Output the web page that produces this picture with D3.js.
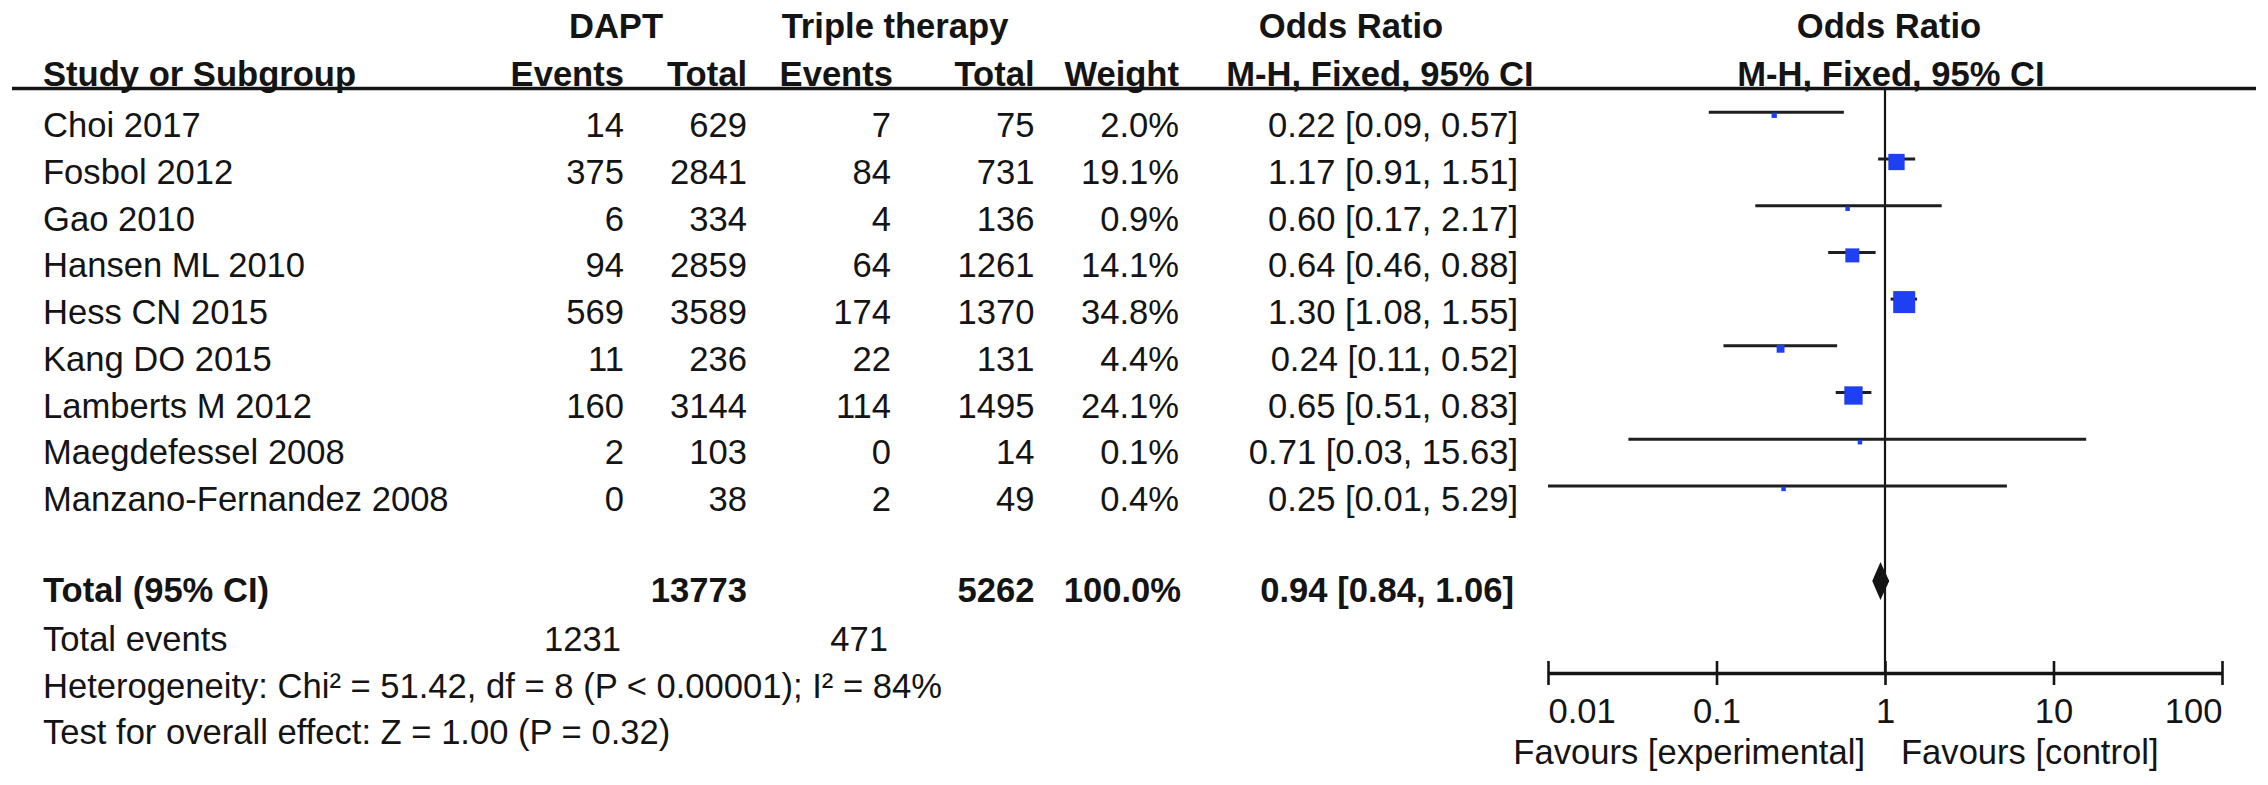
<!DOCTYPE html>
<html><head><meta charset="utf-8">
<script src="https://cdn.jsdelivr.net/npm/d3@7"></script>
<style>
html,body{margin:0;padding:0;background:#fff;}
svg text{font-family:"Liberation Sans",Arial,Helvetica,sans-serif;fill:#141414;font-size:34.6px;}
</style></head><body>
<svg id="chart" width="2268" height="785"></svg>
<script>
// ---- data ----
const studies = ["Choi 2017","Fosbol 2012","Gao 2010","Hansen ML 2010","Hess CN 2015","Kang DO 2015","Lamberts M 2012","Maegdefessel 2008","Manzano-Fernandez 2008"];
const daptEvents = [14,375,6,94,569,11,160,2,0];
const daptTotal = [629,2841,334,2859,3589,236,3144,103,38];
const ttEvents = [7,84,4,64,174,22,114,0,2];
const ttTotal = [75,731,136,1261,1370,131,1495,14,49];
const weights = [2.0,19.1,0.9,14.1,34.8,4.4,24.1,0.1,0.4];
const orValues = [0.22,1.17,0.60,0.64,1.30,0.24,0.65,0.71,0.25];
const ciLow = [0.09,0.91,0.17,0.46,1.08,0.11,0.51,0.03,0.01];
const ciHigh = [0.57,1.51,2.17,0.88,1.55,0.52,0.83,15.63,5.29];
const totalLabel = "Total (95% CI)";
const totalDapt = 13773, totalTT = 5262, totalWeight = 100.0;
const totalOR = 0.94, totalLow = 0.84, totalHigh = 1.06;
const totalEventsLabel = "Total events";
const totalEventsDapt = 1231, totalEventsTT = 471;
const heterogeneityText = "Heterogeneity: Chi\u00B2 = 51.42, df = 8 (P < 0.00001); I\u00B2 = 84%";
const overallText = "Test for overall effect: Z = 1.00 (P = 0.32)";
const axisTicks = [0.01,0.1,1,10,100];
const tickLabels = ["0.01","0.1","1","10","100"];
const favourLeft = "Favours [experimental]";
const favourRight = "Favours [control]";
const groupHeaders = ["DAPT","Triple therapy","Odds Ratio","Odds Ratio"];
const colHeaders = ["Study or Subgroup","Events","Total","Events","Total","Weight","M-H, Fixed, 95% CI","M-H, Fixed, 95% CI"];

// ---- layout ----
const svg = d3.select("#chart");
const ink = "#141414";
const colRight = {de:624, dt:747, te:891, tt:1034.5, w:1179, or:1518};
const nameX = 43;
const y = d3.scaleLinear().domain([0,1]).range([137.3,184]);   // row baselines
const summaryRow = {total:9.95, events:11, het:12, test:13};
const x = d3.scaleLog().domain([0.01,100]).range([1548,2222]);
const size = d3.scaleSqrt().domain([0,100]).range([0,37.3]);
const axisY = 673, headerLineY = 88.5;
const fmt2 = d3.format(".2f"), fmtW = v => d3.format(".1f")(v) + "%";
const orText = (o,l,h) => `${fmt2(o)} [${fmt2(l)}, ${fmt2(h)}]`;

function txt(s, xx, yy, anchor, bold, extra) {
  const t = svg.append("text").attr("x", xx).attr("y", yy).attr("text-anchor", anchor || "start").text(s);
  if (bold) t.attr("font-weight", "bold");
  if (extra) extra(t);
  return t;
}

// header row 1
const h1 = 38;
txt(groupHeaders[0], 616, h1, "middle", true);
txt(groupHeaders[1], 895, h1, "middle", true);
txt(groupHeaders[2], 1351, h1, "middle", true);
txt(groupHeaders[3], 1889, h1, "middle", true);
// header row 2
const h2 = 86;
txt(colHeaders[0], nameX, h2, "start", true);
txt(colHeaders[1], colRight.de, h2, "end", true);
txt(colHeaders[2], colRight.dt, h2, "end", true);
txt(colHeaders[3], colRight.te + 2, h2, "end", true);
txt(colHeaders[4], colRight.tt, h2, "end", true);
txt(colHeaders[5], colRight.w, h2, "end", true);
txt(colHeaders[6], 1380, h2, "middle", true);
txt(colHeaders[7], 1891, h2, "middle", true);

svg.append("line").attr("x1", 12).attr("x2", 2256).attr("y1", headerLineY).attr("y2", headerLineY)
  .attr("stroke", ink).attr("stroke-width", 3.5);

// study rows
studies.forEach((s, i) => {
  const yy = y(i);
  txt(s, nameX, yy);
  txt(daptEvents[i], colRight.de, yy, "end");
  txt(daptTotal[i], colRight.dt, yy, "end");
  txt(ttEvents[i], colRight.te, yy, "end");
  txt(ttTotal[i], colRight.tt, yy, "end");
  txt(fmtW(weights[i]), colRight.w, yy, "end");
  txt(orText(orValues[i], ciLow[i], ciHigh[i]), colRight.or, yy, "end");
});

// summary rows
const yt = y(summaryRow.total);
txt(totalLabel, nameX, yt, "start", true);
txt(totalDapt, colRight.dt, yt, "end", true);
txt(totalTT, colRight.tt, yt, "end", true);
txt(fmtW(totalWeight), colRight.w + 2, yt, "end", true);
txt(orText(totalOR, totalLow, totalHigh), colRight.or - 4, yt, "end", true);
const ye = y(summaryRow.events);
txt(totalEventsLabel, nameX, ye);
txt(totalEventsDapt, colRight.de - 3, ye, "end");
txt(totalEventsTT, colRight.te - 3, ye, "end");
txt(heterogeneityText, nameX, y(summaryRow.het));
txt(overallText, nameX, y(summaryRow.test));

// forest plot: line of no effect
svg.append("line").attr("x1", x(1)).attr("x2", x(1)).attr("y1", headerLineY).attr("y2", axisY)
  .attr("stroke", ink).attr("stroke-width", 2.2);

// CI lines and squares
const g = svg.append("g");
studies.forEach((s, i) => {
  const ly = y(i) - 25;
  g.append("line").attr("x1", x(ciLow[i])).attr("x2", x(ciHigh[i])).attr("y1", ly).attr("y2", ly)
    .attr("stroke", "#1e1e1e").attr("stroke-width", 3);
  const sz = Math.max(4.5, size(weights[i]));
  g.append("rect").attr("x", x(orValues[i]) - sz/2).attr("y", ly + 3 - sz/2)
    .attr("width", sz).attr("height", sz).attr("fill", "#1f3ff2");
});

// diamond
const dy = yt - 21, dh = 19;
svg.append("path")
  .attr("d", `M${x(totalLow)},${dy} L${x(totalOR)},${dy-dh} L${x(totalHigh)},${dy} L${x(totalOR)},${dy+dh} Z`)
  .attr("fill", ink);

// axis
const axis = d3.axisBottom(x).tickValues(axisTicks).tickFormat((d,i) => tickLabels[i])
  .tickSizeInner(12).tickSizeOuter(0);
const ag = svg.append("g").attr("transform", `translate(0,${axisY})`).call(axis);
ag.select(".domain").attr("stroke", ink).attr("stroke-width", 3.5);
ag.selectAll(".tick line").attr("y1", -12).attr("y2", 12).attr("stroke", ink).attr("stroke-width", 2.6);
ag.selectAll(".tick text")
  .attr("y", 50).attr("dy", 0)
  .attr("font-size", "33.5px").attr("font-family", null)
  .attr("fill", ink)
  .attr("text-anchor", (d,i) => i === 0 ? "start" : (i === axisTicks.length - 1 ? "end" : "middle"));
ag.attr("font-family", null).attr("font-size", null);

txt(favourLeft, x(1) - 20, 764, "end");
txt(favourRight, x(1) + 16, 764, "start");
</script>
</body></html>
